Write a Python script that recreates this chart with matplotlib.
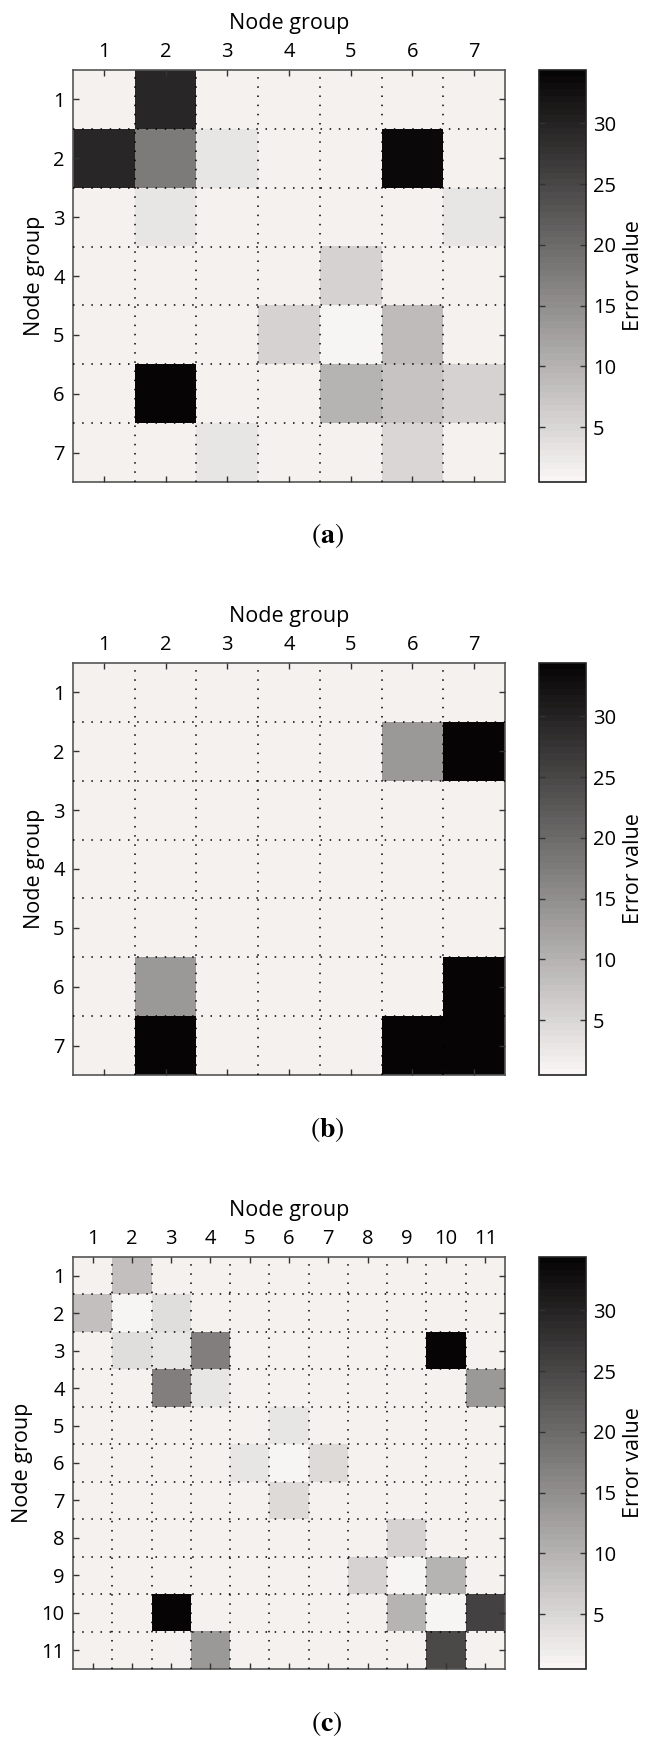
import numpy as np
import matplotlib
matplotlib.use("Agg")
from matplotlib import pyplot as plt
from matplotlib.colors import ListedColormap

plt.rcParams['font.family'] = ['Open Sans', 'DejaVu Sans']
plt.rcParams['mathtext.fontset'] = 'stix'

# Error values between node groups, rows = source group, columns = target group
errA = [
    [1.2, 29.5, 1.2, 1.2, 1.2, 1.2, 1.2],
    [29.5, 17.8, 2.6, 1.2, 1.2, 33.8, 1.2],
    [1.2, 2.6, 1.2, 1.2, 1.2, 1.2, 2.6],
    [1.2, 1.2, 1.2, 1.2, 5.3, 1.2, 1.2],
    [1.2, 1.2, 1.2, 5.3, 0.0, 8.8, 1.2],
    [1.2, 34.0, 1.2, 1.2, 9.5, 7.4, 5.3],
    [1.2, 1.2, 2.9, 1.2, 1.2, 4.8, 1.2],
]

errB = [
    [1.2, 1.2, 1.2, 1.2, 1.2, 1.2, 1.2],
    [1.2, 1.2, 1.2, 1.2, 1.2, 13.5, 34.0],
    [1.2, 1.2, 1.2, 1.2, 1.2, 1.2, 1.2],
    [1.2, 1.2, 1.2, 1.2, 1.2, 1.2, 1.2],
    [1.2, 1.2, 1.2, 1.2, 1.2, 1.2, 1.2],
    [1.2, 13.5, 1.2, 1.2, 1.2, 1.2, 34.0],
    [1.2, 34.0, 1.2, 1.2, 1.2, 34.0, 34.0],
]

errC = [
    [1.2, 8.1, 1.2, 1.2, 1.2, 1.2, 1.2, 1.2, 1.2, 1.2, 1.2],
    [8.1, 0.0, 3.7, 1.2, 1.2, 1.2, 1.2, 1.2, 1.2, 1.2, 1.2],
    [1.2, 3.7, 2.6, 17.1, 1.2, 1.2, 1.2, 1.2, 1.2, 34.0, 1.2],
    [1.2, 1.2, 17.1, 2.6, 1.2, 1.2, 1.2, 1.2, 1.2, 1.2, 13.6],
    [1.2, 1.2, 1.2, 1.2, 1.2, 2.6, 1.2, 1.2, 1.2, 1.2, 1.2],
    [1.2, 1.2, 1.2, 1.2, 2.6, 0.0, 4.6, 1.2, 1.2, 1.2, 1.2],
    [1.2, 1.2, 1.2, 1.2, 1.2, 4.6, 1.2, 1.2, 1.2, 1.2, 1.2],
    [1.2, 1.2, 1.2, 1.2, 1.2, 1.2, 1.2, 1.2, 5.3, 1.2, 1.2],
    [1.2, 1.2, 1.2, 1.2, 1.2, 1.2, 1.2, 5.3, 0.0, 9.5, 1.2],
    [1.2, 1.2, 34.0, 1.2, 1.2, 1.2, 1.2, 1.2, 9.5, 0.0, 25.4],
    [1.2, 1.2, 1.2, 13.6, 1.2, 1.2, 1.2, 1.2, 1.2, 24.7, 1.2],
]

panels = [errA, errB, errC]
captions = ['a', 'b', 'c']
cbTicks = [5, 10, 15, 20, 25, 30]
vmin, vmax = 0.48, 34.4

# 64-step gray map, light to black
lvl = np.linspace(0, 1, 64)[:, None]
light = np.array([0.972, 0.962, 0.955])
dark = np.array([0.025, 0.018, 0.018])
cmap = ListedColormap(light * (1 - lvl) + dark * lvl)

fig = plt.figure(figsize=[6.46, 17.37], dpi=100)
W, H = 646.0, 1737.0
axBottoms = [482, 1075, 1669]

for data, cap, yb in zip(panels, captions, axBottoms):
    arr = np.array(data)
    n = arr.shape[0]
    ax = fig.add_axes([73 / W, 1 - yb / H, 432 / W, 412 / H])
    im = ax.imshow(arr, cmap=cmap, vmin=vmin, vmax=vmax, aspect='auto',
                   interpolation='nearest',
                   extent=(0.5, n + 0.5, n + 0.5, 0.5))

    ticks = np.arange(1, n + 1)
    ax.set_xticks(ticks)
    ax.set_yticks(ticks)
    ax.set_xticklabels([str(t) for t in ticks])
    ax.set_yticklabels([str(t) for t in ticks])
    ax.set_xticks(np.arange(1.5, n), minor=True)
    ax.set_yticks(np.arange(1.5, n), minor=True)
    ax.tick_params(which='major', direction='in', length=4, width=1,
                   top=True, bottom=True, left=True, right=True,
                   labeltop=True, labelbottom=False, labelsize=14.5,
                   color='#333333', pad=6)
    ax.tick_params(which='minor', length=0)
    ax.grid(which='minor', color='black', linestyle=(0, (1, 5)), linewidth=1.1)
    ax.set_axisbelow(False)
    for s in ax.spines.values():
        s.set_color('#555555')
        s.set_linewidth(1.2)

    ax.xaxis.set_label_position('top')
    ax.set_xlabel('Node group', fontsize=15.5, labelpad=9)
    ax.set_ylabel('Node group', fontsize=15.5, labelpad=6)

    cax = fig.add_axes([539 / W, 1 - yb / H, 47 / W, 412 / H])
    cb = fig.colorbar(im, cax=cax, ticks=cbTicks)
    cb.outline.set_linewidth(1.2)
    cb.outline.set_edgecolor('#222222')
    cax.tick_params(direction='in', length=4, width=1, left=True, right=True,
                    labelsize=14.5, pad=5, color='#333333')
    cb.set_label('Error value', fontsize=15.5, labelpad=5)

    fig.text(327 / W, 1 - (yb + 54) / H, r'$(\mathbf{%s})$' % cap,
             fontsize=20, ha='center', va='center')

fig.savefig('out.png', dpi=100)
